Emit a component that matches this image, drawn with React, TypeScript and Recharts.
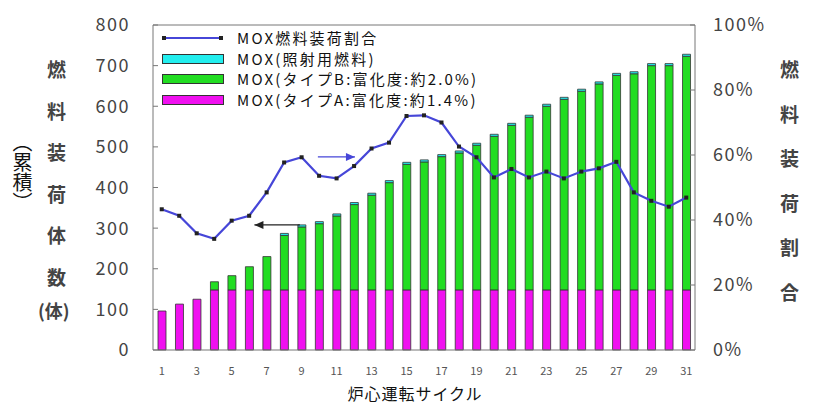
import React from "react";
import {
  ComposedChart,
  Bar,
  Line,
  XAxis,
  YAxis,
  ReferenceLine,
} from "recharts";

// 炉心運転サイクル
const cycles = [
  1, 2, 3, 4, 5, 6, 7, 8, 9, 10, 11, 12, 13, 14, 15, 16, 17, 18, 19, 20, 21,
  22, 23, 24, 25, 26, 27, 28, 29, 30, 31,
];
// MOX(タイプA) cumulative assemblies
const typeA = [
  96, 113, 125, 148, 148, 148, 148, 148, 148, 148, 148, 148, 148, 148, 148,
  148, 148, 148, 148, 148, 148, 148, 148, 148, 148, 148, 148, 148, 148, 148,
  148,
];
// MOX(タイプB)
const typeB = [
  0, 0, 0, 20, 35, 57, 82, 134, 155, 163, 182, 210, 233, 264, 309, 315, 328,
  337, 356, 378, 405, 425, 452, 469, 489, 507, 528, 532, 552, 552, 575,
];
// MOX(照射用燃料)
const irradiation = [
  0, 0, 0, 0, 0, 0, 0, 5, 5, 5, 5, 5, 5, 5, 5, 5, 5, 5, 5, 5, 5, 5, 5, 5, 5,
  5, 5, 5, 5, 5, 5,
];
// MOX燃料装荷割合 (%)
const ratio = [
  43.3, 41.3, 35.9, 34.2, 39.8, 41.3, 48.5, 57.7, 59.3, 53.6, 52.8, 56.6, 62.0,
  63.8, 72.0, 72.2, 70.0, 62.6, 59.3, 53.1, 55.7, 53.1, 54.9, 52.8, 54.9, 55.9,
  57.9, 48.5, 45.9, 44.1, 46.9,
];

const xTicks = [1, 3, 5, 7, 9, 11, 13, 15, 17, 19, 21, 23, 25, 27, 29, 31];
const leftTicks = [0, 100, 200, 300, 400, 500, 600, 700, 800];
const rightTicks = [0, 20, 40, 60, 80, 100];

const legendLabels = [
  "MOX燃料装荷割合",
  "MOX(照射用燃料)",
  "MOX(タイプB:富化度:約2.0%)",
  "MOX(タイプA:富化度:約1.4%)",
];
const leftTitle = ["燃", "料", "装", "荷", "体", "数"];
const rightTitle = ["燃", "料", "装", "荷", "割", "合"];

const data = cycles.map((c, i) => ({
  cycle: c,
  typeA: typeA[i],
  typeB: typeB[i],
  irradiation: irradiation[i],
  ratio: ratio[i],
}));

const FONT = '"Noto Sans CJK JP", "DejaVu Sans", sans-serif';
const BLUE = "#4646d8";
const MAGENTA = "#f010f0";
const GREEN = "#22dd22";
const CYAN = "#22eeee";

const SquareDot = (props: any) => {
  const { cx, cy, index } = props;
  if (cx == null || cy == null) return null;
  return (
    <rect key={`d${index}`} x={cx - 2} y={cy - 2} width={4} height={4} fill="#222" />
  );
};

const arrowShape = (color: string) => (props: any) => {
  const { x1, y1, x2, y2 } = props;
  const dir = x2 > x1 ? 1 : -1;
  return (
    <g>
      <line x1={x1} y1={y1} x2={x2} y2={y2} stroke={color} strokeWidth={1.2} />
      <path
        d={`M${x2},${y2} L${x2 - dir * 9},${y2 - 4} L${x2 - dir * 9},${y2 + 4} Z`}
        fill={color}
      />
    </g>
  );
};

const tickStyle = { fontSize: 18, fill: "#444", fontFamily: FONT, letterSpacing: 1.5 };

export default function App() {
  return (
    <div style={{ position: "absolute", left: 0, top: 0, width: 818, height: 406, background: "#fff", fontFamily: FONT, overflow: "hidden" }}>
      <ComposedChart
        width={818}
        height={406}
        data={data}
        margin={{ top: 25, right: 0, bottom: 26, left: 0 }}
      >
        <XAxis
          dataKey="cycle"
          type="number"
          domain={[0.5, 31.5]}
          ticks={xTicks}
          interval={0}
          height={30}
          tickLine={false}
          tickMargin={11}
          axisLine={{ stroke: "#777" }}
          tick={{ fontSize: 11, fill: "#555", fontFamily: FONT }}
        />
        <YAxis
          yAxisId="left"
          orientation="left"
          width={153}
          domain={[0, 800]}
          ticks={leftTicks}
          interval={0}
          tickSize={-5}
          tickMargin={28}
          tickLine={{ stroke: "#777" }}
          axisLine={{ stroke: "#777" }}
          tick={tickStyle}
        />
        <YAxis
          yAxisId="right"
          orientation="right"
          width={123}
          domain={[0, 100]}
          ticks={rightTicks}
          interval={0}
          tickSize={-5}
          tickMargin={23}
          tickLine={{ stroke: "#777" }}
          axisLine={{ stroke: "#777" }}
          tickFormatter={(v: number) => `${v}%`}
          tick={{ ...tickStyle, textAnchor: "start" }}
        />
        <ReferenceLine yAxisId="left" y={800} stroke="#777" />
        <Bar
          yAxisId="left"
          dataKey="typeA"
          stackId="s"
          barSize={8}
          fill={MAGENTA}
          stroke="#333"
          strokeWidth={0.8}
          isAnimationActive={false}
        />
        <Bar
          yAxisId="left"
          dataKey="typeB"
          stackId="s"
          barSize={8}
          fill={GREEN}
          stroke="#333"
          strokeWidth={0.8}
          isAnimationActive={false}
        />
        <Bar
          yAxisId="left"
          dataKey="irradiation"
          stackId="s"
          barSize={8}
          fill={CYAN}
          stroke="#333"
          strokeWidth={0.8}
          isAnimationActive={false}
        />
        <Line
          yAxisId="right"
          dataKey="ratio"
          stroke={BLUE}
          strokeWidth={2.2}
          dot={<SquareDot />}
          activeDot={false}
          isAnimationActive={false}
        />
        <ReferenceLine
          yAxisId="right"
          segment={[
            { x: 9.93, y: 59.4 },
            { x: 12.05, y: 59.4 },
          ]}
          shape={arrowShape(BLUE)}
        />
        <ReferenceLine
          yAxisId="left"
          segment={[
            { x: 8.9, y: 308 },
            { x: 6.3, y: 308 },
          ]}
          shape={arrowShape("#222")}
        />
      </ComposedChart>

      {/* legend */}
      <div style={{ position: "absolute", left: 162, top: 28 }}>
        {legendLabels.map((label, i) => (
          <div key={label} style={{ display: "flex", alignItems: "center", height: 20.5 }}>
            <div style={{ width: 62, height: 10, display: "flex", alignItems: "center", position: "relative" }}>
              {i === 0 ? (
                <>
                  <div style={{ width: 58, height: 2, background: BLUE, marginLeft: 2 }} />
                  <div style={{ position: "absolute", left: 0, top: 3, width: 4, height: 4, background: "#222" }} />
                  <div style={{ position: "absolute", left: 57, top: 3, width: 4, height: 4, background: "#222" }} />
                </>
              ) : (
                <div
                  style={{
                    width: 60,
                    height: 8,
                    border: "1px solid #333",
                    background: [CYAN, GREEN, MAGENTA][i - 1],
                  }}
                />
              )}
            </div>
            <span style={{ marginLeft: 13, fontSize: 15, letterSpacing: 2.2, color: "#111", lineHeight: "20px" }}>
              {label}
            </span>
          </div>
        ))}
      </div>

      {/* left title */}
      {leftTitle.map((ch, i) => (
        <div key={`l${i}`} style={{ position: "absolute", left: 47, top: 58 + i * 41.5, fontSize: 19, fontWeight: 700, color: "#444", lineHeight: "22px" }}>
          {ch}
        </div>
      ))}
      <div style={{ position: "absolute", left: 38, top: 299, fontSize: 18, fontWeight: 700, color: "#444", lineHeight: "22px" }}>
        (体)
      </div>
      <div style={{ position: "absolute", left: 11, top: 132, fontSize: 20, color: "#111", writingMode: "vertical-rl", lineHeight: "22px" }}>
        （累積）
      </div>

      {/* right title */}
      {rightTitle.map((ch, i) => (
        <div key={`r${i}`} style={{ position: "absolute", left: 780, top: 58 + i * 44.5, fontSize: 19, fontWeight: 700, color: "#444", lineHeight: "22px" }}>
          {ch}
        </div>
      ))}

      {/* x title */}
      <div style={{ position: "absolute", left: 0, width: 818, textAlign: "center", top: 384, fontSize: 16, color: "#111", letterSpacing: 1, paddingLeft: 12, boxSizing: "border-box", lineHeight: "18px" }}>
        炉心運転サイクル
      </div>
    </div>
  );
}
